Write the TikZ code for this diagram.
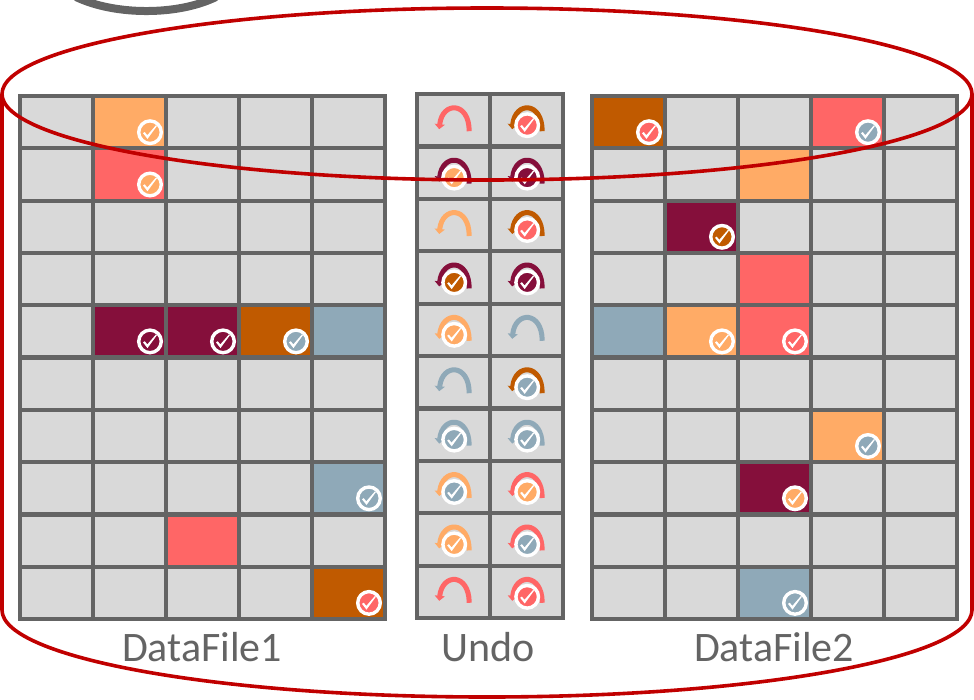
\documentclass[tikz,border=0pt]{standalone}
\usepackage{fontspec}
\setmainfont{Carlito}
\usetikzlibrary{arrows.meta}
\definecolor{peach}{HTML}{FFAB66}
\definecolor{coral}{HTML}{FF6666}
\definecolor{wine}{HTML}{850F3B}
\definecolor{burnt}{HTML}{C05A00}
\definecolor{steel}{HTML}{8FA9B8}
\definecolor{gridgray}{HTML}{646464}
\definecolor{cellgray}{HTML}{D9D9D9}
\definecolor{diskred}{HTML}{C00000}
\tikzset{checkmark/.pic={\fill[white] (-7,1) -- (-5.3,-0.2) -- (-2.7,3) -- (6,-7) -- (6.9,-6.2) -- (-2.5,6.7) -- cycle;}}

\begin{document}
\begin{tikzpicture}[x=1pt,y=-1pt]
    \tikzstyle{cell}=[rectangle,draw=gridgray,fill=cellgray,line width=4.2pt,minimum width=73pt,minimum height=52.3pt,inner sep=0pt]
    \tikzstyle{undo cell}=[cell,minimum height=52.4pt]
    \tikzstyle{badge}=[circle,draw=white,line width=3.4pt,minimum size=22.6pt,inner sep=0pt]
    \tikzstyle{undo line}=[line width=5pt,-{Triangle[width=10pt,length=5pt]}]
    \tikzstyle{disk}=[draw=diskred,line width=3.6pt]
    \tikzstyle{annot}=[text=gridgray,font=\fontsize{42}{46}\selectfont]

    \useasboundingbox (0,0) rectangle (974,699);
    \clip (0,0) rectangle (974,699);

    \draw[gridgray,line width=8pt] (76,-3) .. controls (115,15.7) and (178,15.7) .. (216,-3);

    % the three grids
    \foreach \c in {0,1,2,3,4}{
        \foreach \r in {0,...,9}{
            \pgfmathsetmacro\xl{56.5+\c*73}
            \pgfmathsetmacro\xr{628.5+\c*73}
            \pgfmathsetmacro\y{122.2+\r*52.3}
            \node[cell] (L-\c-\r) at (\xl,\y){};
            \node[cell] (R-\c-\r) at (\xr,\y){};
        }
    }
    \foreach \c in {0,1}{
        \foreach \r in {0,...,9}{
            \pgfmathsetmacro\x{453.2+\c*73}
            \pgfmathsetmacro\y{120.2+\r*52.4}
            \node[undo cell] (U-\c-\r) at (\x,\y){};
        }
    }

    % filled blocks
    \foreach \n/\col in {L-1-0/peach,L-1-1/coral,L-1-4/wine,L-2-4/wine,L-3-4/burnt,L-4-4/steel,L-4-7/steel,L-2-8/coral,L-4-9/burnt,
        R-0-0/burnt,R-3-0/coral,R-2-1/peach,R-1-2/wine,R-2-3/coral,R-0-4/steel,R-1-4/peach,R-2-4/coral,R-3-6/peach,R-2-7/wine,R-2-9/steel}{
        \node[cell,fill=\col,anchor=center] (F-\n) at (\n){};
    }
    \foreach \n/\col in {L-1-0/peach,L-1-1/peach,L-1-4/wine,L-2-4/wine,L-3-4/steel,L-4-7/steel,L-4-9/coral,
        R-0-0/coral,R-3-0/steel,R-1-2/burnt,R-1-4/peach,R-2-4/coral,R-3-6/steel,R-2-7/peach,R-2-9/steel}{
        \node[badge,fill=\col] (B-\n) at ([xshift=20.5pt,yshift=-10pt]\n.center){};
        \pic at (B-\n) {checkmark};
    }

    % undo records
    \foreach \n/\col in {U-0-0/coral,U-1-0/burnt,U-0-1/wine,U-1-1/wine,U-0-2/peach,U-1-2/burnt,U-0-3/wine,U-1-3/wine,U-0-4/peach,U-1-4/steel,
        U-0-5/steel,U-1-5/burnt,U-0-6/steel,U-1-6/steel,U-0-7/peach,U-1-7/coral,U-0-8/peach,U-1-8/coral,U-0-9/coral,U-1-9/coral}{
        \begin{scope}[shift={(\n.center)}]
            \draw[undo line,draw=\col] (16,11) .. controls (16,-19) and (-11,-19) .. (-14,9);
        \end{scope}
    }
    \foreach \n/\col in {U-1-0/coral,U-0-1/peach,U-1-1/wine,U-1-2/coral,U-0-3/burnt,U-1-3/wine,U-0-4/peach,
        U-1-5/steel,U-0-6/steel,U-1-6/steel,U-0-7/steel,U-1-7/peach,U-0-8/peach,U-1-8/steel,U-1-9/coral}{
        \node[badge,fill=\col] (B-\n) at ([xshift=1pt,yshift=-5pt]\n.center){};
        \pic at (B-\n) {checkmark};
    }

    \node[annot] (datafile1) at (202,647){DataFile1};
    \node[annot] (undo) at (488,647){Undo};
    \node[annot] (datafile2) at (774,647){DataFile2};

    % disk outline
    \draw[disk] (487,94) ellipse [x radius=485pt,y radius=86pt];
    \draw[disk] (2,94) -- (2,610) .. controls (2,658) and (219,697) .. (487,697) .. controls (755,697) and (972,658) .. (972,610) -- (972,94);
\end{tikzpicture}
\end{document}
